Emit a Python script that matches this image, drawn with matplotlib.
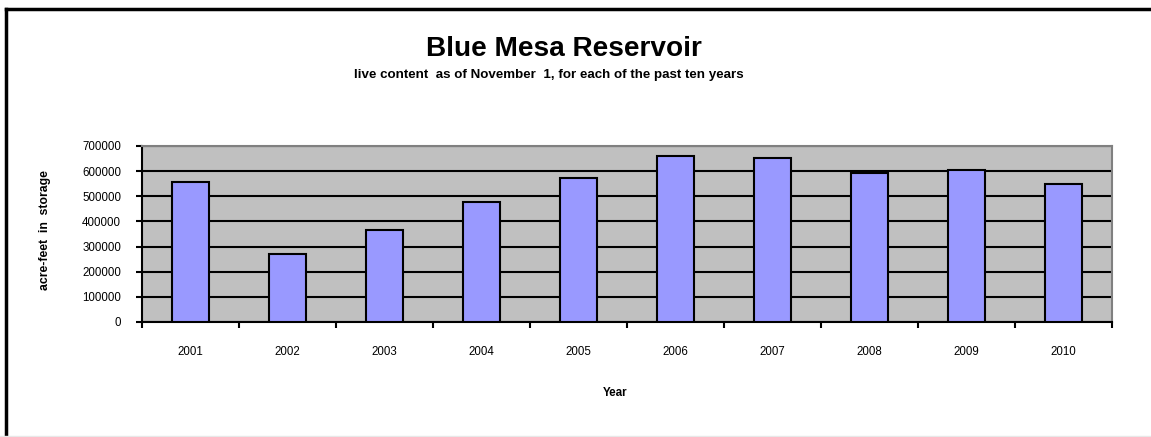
import matplotlib
matplotlib.use("Agg")
import matplotlib.pyplot as plt
import numpy as np

plt.rcParams['font.family'] = ['Liberation Sans', 'DejaVu Sans']

years = ['2001', '2002', '2003', '2004', '2005', '2006', '2007', '2008', '2009', '2010']
storage = [556000, 270000, 366000, 477000, 571000, 659000, 651000, 594000, 603000, 549000]
yticks = [0, 100000, 200000, 300000, 400000, 500000, 600000, 700000]

W, H = 1151, 437
fig = plt.figure(figsize=(W / 100, H / 100), dpi=100)
ax = fig.add_axes([142 / W, 1 - 322 / H, (1112 - 142) / W, (322 - 146) / H])
ax.set_facecolor('#C0C0C0')

x = np.arange(1, len(years) + 1)
ax.bar(x, storage, width=0.39, color='#9999FF', edgecolor='black', linewidth=1.5, zorder=3)

ax.set_xlim(0.5, len(years) + 0.5)
ax.set_ylim(0, 700000)
ax.set_yticks(yticks)
ax.set_yticklabels([str(v) for v in yticks], fontsize=8.3)
ax.yaxis.grid(True, color='black', linewidth=1.5, zorder=1)
ax.set_axisbelow(True)

ax.set_xticks(x)
ax.set_xticklabels(years, fontsize=8.3)
ax.tick_params(axis='x', which='major', length=0, pad=17)
ax.set_xticks(np.arange(0.5, len(years) + 1.0, 1.0), minor=True)
ax.tick_params(axis='x', which='minor', length=4, width=1.5, direction='out', color='black')
ax.tick_params(axis='y', length=4, width=1.5, direction='out', pad=11)

for s in ['left', 'bottom']:
    ax.spines[s].set_color('black')
    ax.spines[s].set_linewidth(1.5)
for s in ['top', 'right']:
    ax.spines[s].set_color('#808080')
    ax.spines[s].set_linewidth(1.5)

ax.set_ylabel('acre-feet  in  storage', fontsize=8.8, fontweight='bold')
ax.yaxis.set_label_coords((51 - 142) / 970, 0.52)
fig.text(615 / W, 1 - 393 / H, 'Year', ha='center', va='center', fontsize=8.4, fontweight='bold')

fig.text(564 / W, 1 - 49 / H, 'Blue Mesa Reservoir', ha='center', va='center', fontsize=20.2, fontweight='bold')
fig.text(549 / W, 1 - 75 / H, 'live content  as of November  1, for each of the past ten years', ha='center', va='center', fontsize=9.6, fontweight='bold')

# outer chart frame (top and left edges visible)
fig.add_artist(plt.Line2D([6 / W, 6 / W], [0, 1 - 9 / H], transform=fig.transFigure, color='black', linewidth=2.5))
fig.add_artist(plt.Line2D([6 / W, 1], [1 - 9 / H, 1 - 9 / H], transform=fig.transFigure, color='black', linewidth=2.5))
fig.add_artist(plt.Line2D([0, 1], [1 - 436 / H, 1 - 436 / H], transform=fig.transFigure, color='#E8E8E8', linewidth=1))

fig.savefig('out.png', dpi=100)
